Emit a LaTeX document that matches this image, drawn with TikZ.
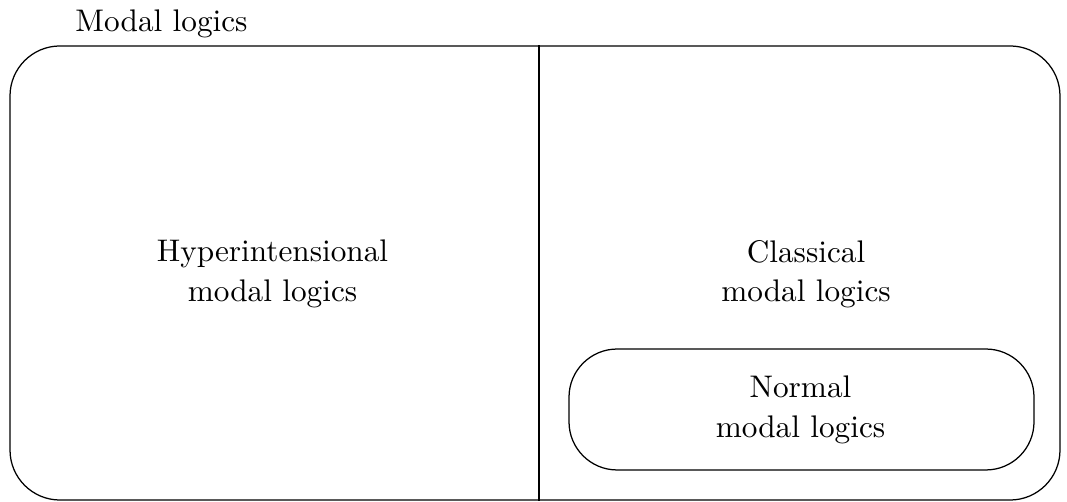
\documentclass[tikz,border=0pt]{standalone}
\begin{document}
\begin{tikzpicture}[x=0.32pt,y=-0.32pt,
  region/.style={draw, line width=0.4pt, inner sep=0pt},
  label/.style={align=center, inner sep=0pt, font=\fontsize{10}{12.6}\selectfont}]
\useasboundingbox (0,0) rectangle (1067,502);
\node[region, rounded corners=16pt, minimum width=336pt, minimum height=145.3pt] (outer) at (535,273) {};
\coordinate (d) at (539,0);
\draw[line width=0.4pt] (outer.north -| d) -- (outer.south -| d);
\node[region, rounded corners=15.4pt, minimum width=148.8pt, minimum height=38.7pt] (normalbox) at (801.5,409.5) {};
\node[label, anchor=base] (title) at (161.5,32) {Modal logics};
\node[label] (hyper) at (272.5,274) {Hyperintensional\\modal logics};
\node[label] (classical) at (806,274) {Classical\\modal logics};
\node[label] (normal) at (800.5,409.7) {Normal\\modal logics};
\end{tikzpicture}
\end{document}
